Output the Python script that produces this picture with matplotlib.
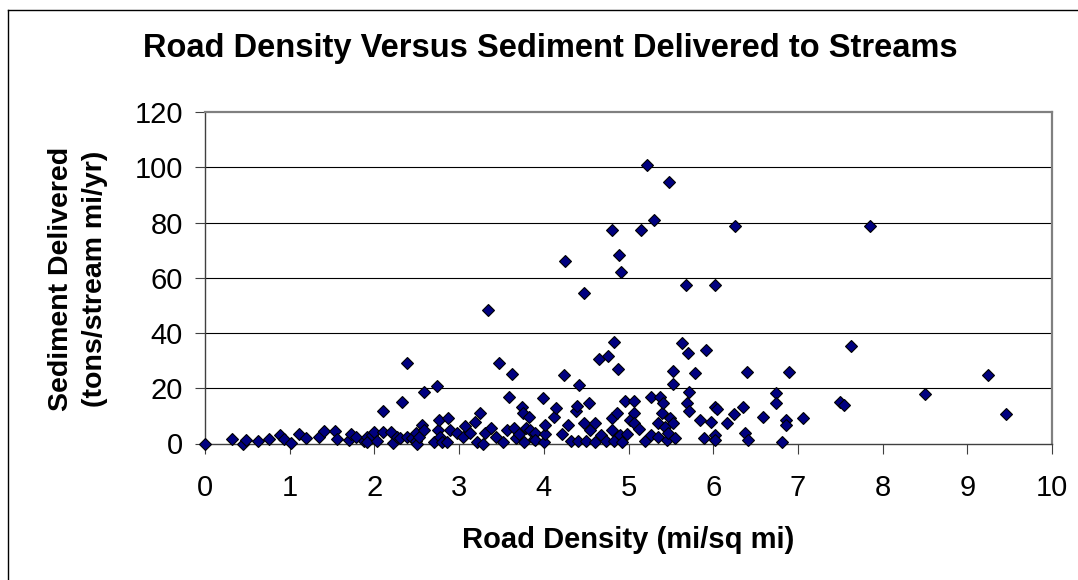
import matplotlib
matplotlib.use("Agg")
import matplotlib.pyplot as plt
from matplotlib.lines import Line2D

plt.rcParams["font.family"] = ["Liberation Sans", "DejaVu Sans"]

# Road density (mi/sq mi)
road_density = [
    0.00, 0.32, 0.45, 0.48, 0.62, 0.76, 0.89, 0.93, 1.02, 1.11, 1.19, 1.35,
    1.40, 1.54, 1.56, 1.70, 1.72, 1.78, 1.88, 1.91, 1.91, 1.97, 1.99,
    2.03, 2.10, 2.10, 2.20, 2.22, 2.27, 2.30, 2.33, 2.38, 2.39, 2.44, 2.49,
    2.49, 2.50, 2.53, 2.56, 2.58, 2.58, 2.70, 2.74, 2.75, 2.76, 2.77, 2.80,
    2.86, 2.87, 2.89, 2.97,
    3.05, 3.07, 3.13, 3.19, 3.21, 3.25, 3.28, 3.30, 3.34, 3.38, 3.44, 3.47,
    3.52, 3.56, 3.59, 3.63, 3.65, 3.67, 3.71, 3.74, 3.76, 3.77, 3.79, 3.82,
    3.84, 3.88, 3.90, 3.90, 3.99,
    4.00, 4.01, 4.01, 4.12, 4.14, 4.22, 4.24, 4.25, 4.29, 4.32, 4.38, 4.39,
    4.40, 4.41, 4.47, 4.47, 4.50, 4.53, 4.55, 4.61, 4.61, 4.65, 4.67, 4.73,
    4.76, 4.81, 4.81, 4.81, 4.83, 4.83, 4.87, 4.88, 4.89, 4.90, 4.91, 4.92,
    4.96, 4.98,
    5.02, 5.06, 5.06, 5.07, 5.12, 5.15, 5.19, 5.22, 5.27, 5.27, 5.30, 5.35,
    5.35, 5.37, 5.39, 5.41, 5.43, 5.45, 5.47, 5.48, 5.49, 5.53, 5.53, 5.53,
    5.55, 5.63, 5.68, 5.69, 5.70, 5.71, 5.71, 5.78, 5.84, 5.89, 5.92, 5.97,
    6.02, 6.02, 6.04, 6.02, 6.02, 6.16, 6.24, 6.26, 6.35, 6.38, 6.40, 6.41,
    6.59, 6.74, 6.74, 6.81, 6.86, 6.86, 6.90, 7.06, 7.50, 7.55, 7.63, 7.85,
    8.50, 9.25, 9.46,
]

# Sediment delivered (tons/stream mi/yr)
sediment = [
    0.0, 1.5, 0.0, 1.2, 0.8, 1.5, 2.9, 1.5, 0.3, 3.6, 1.9, 2.3,
    4.5, 4.5, 1.6, 1.2, 3.6, 2.3, 0.8, 2.5, 0.7, 3.1, 4.3,
    1.0, 4.3, 11.6, 4.3, 0.3, 2.3, 1.9, 15.1, 2.5, 29.1, 1.9, 3.9,
    1.0, 0.0, 2.5, 6.7, 4.9, 18.6, 0.7, 20.9, 4.9, 8.5, 2.5, 0.7,
    0.5, 9.1, 4.9, 3.7,
    2.5, 6.3, 3.9, 7.9, 0.7, 11.1, 0.0, 3.9, 48.3, 5.5, 2.5, 29.1,
    0.7, 4.9, 16.7, 25.3, 5.5, 1.9, 3.6, 13.1, 10.9, 0.7, 5.5, 9.7,
    4.9, 1.6, 3.9, 1.3, 16.3,
    0.4, 3.6, 6.7, 9.5, 12.7, 3.6, 24.8, 66.2, 6.7, 1.0, 11.9, 13.5,
    1.0, 21.1, 54.6, 7.3, 1.0, 14.7, 4.9, 7.3, 0.7, 30.6, 3.1, 1.0,
    31.5, 77.3, 9.1, 4.9, 36.6, 1.0, 10.9, 27.1, 68.2, 3.1, 62.2, 0.7,
    15.4, 3.6,
    8.5, 10.9, 7.3, 15.4, 5.1, 77.3, 1.0, 100.9, 16.9, 3.1, 80.9, 7.3,
    2.5, 16.9, 11.1, 14.5, 6.1, 1.3, 3.9, 94.7, 9.1, 21.5, 26.3, 7.3,
    1.9, 36.2, 57.3, 14.5, 32.6, 18.7, 11.6, 25.5, 8.5, 1.9, 33.9, 7.9,
    57.3, 13.1, 12.4, 3.1, 1.3, 7.3, 10.6, 78.6, 13.3, 3.9, 25.9, 1.3,
    9.7, 18.1, 14.5, 0.7, 8.5, 6.7, 25.9, 9.1, 14.9, 13.9, 35.2, 78.6,
    17.9, 24.8, 10.5,
]

x_ticks = list(range(0, 11))
y_ticks = [0, 20, 40, 60, 80, 100, 120]

W, H = 1078, 580
fig = plt.figure(figsize=(W / 100, H / 100), dpi=100)

# plot area in pixels: left 205, right 1052, top 112, bottom 443.5
ax = fig.add_axes([205 / W, 1 - 443.5 / H, (1052 - 205) / W, (443.5 - 112) / H])

ax.plot(road_density, sediment, linestyle="none", marker="D", markersize=6,
        markerfacecolor="#000080", markeredgecolor="black", markeredgewidth=0.8,
        clip_on=False, zorder=3)

ax.set_xlim(0, 10)
ax.set_ylim(0, 120)
ax.set_xticks(x_ticks)
ax.set_yticks(y_ticks)

for y in y_ticks[1:-1]:
    ax.axhline(y, color="black", linewidth=0.8, zorder=1)

ax.spines["top"].set_color("#808080")
ax.spines["right"].set_color("#808080")
ax.spines["top"].set_linewidth(1.6)
ax.spines["right"].set_linewidth(1.6)
ax.spines["left"].set_color("#404040")
ax.spines["bottom"].set_color("#404040")
ax.spines["left"].set_linewidth(1.0)
ax.spines["bottom"].set_linewidth(1.0)

ax.tick_params(axis="y", direction="out", length=7, width=0.8, color="#404040",
               labelsize=21, pad=9)
ax.tick_params(axis="x", direction="out", length=7, width=0.8, color="#404040",
               labelsize=21, pad=15)

fig.text(550 / W, 1 - 49 / H, "Road Density Versus Sediment Delivered to Streams",
         ha="center", va="center", fontsize=23.5, fontweight="bold")
fig.text(628 / W, 1 - 540 / H, "Road Density (mi/sq mi)",
         ha="center", va="center", fontsize=21, fontweight="bold")
fig.text(78 / W, 1 - 279 / H, "Sediment Delivered\n(tons/stream mi/yr)",
         ha="center", va="center", rotation=90, fontsize=20.5, fontweight="bold",
         linespacing=1.35, multialignment="center")

# chart-area border (only left and top edges fall inside the image)
fig.add_artist(Line2D([8 / W, 8 / W], [0, 1 - 10 / H], transform=fig.transFigure,
                      color="black", linewidth=1.0))
fig.add_artist(Line2D([8 / W, 1], [1 - 10 / H, 1 - 10 / H], transform=fig.transFigure,
                      color="black", linewidth=1.0))

fig.savefig("out.png", dpi=100)
